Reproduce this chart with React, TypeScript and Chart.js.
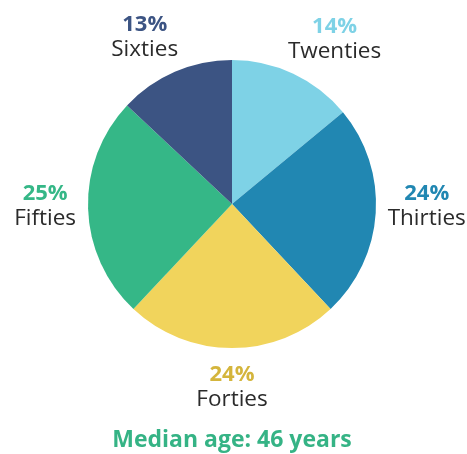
import React, { useEffect, useRef } from "react";
import { Chart, registerables } from "chart.js";

Chart.register(...registerables);

const categories = ["Twenties", "Thirties", "Forties", "Fifties", "Sixties"];
const shares = [14, 24, 24, 25, 13];
const percentLabels = ["14%", "24%", "24%", "25%", "13%"];
const sliceColors = ["#7ed2e6", "#2187b2", "#f1d45c", "#35b787", "#3c5483"];
const percentColors = ["#7ed2e6", "#2187b2", "#d4b53c", "#35b787", "#3c5483"];
const titleText = "Median age: 46 years";

const FONT = "'Open Sans', 'Noto Sans', sans-serif";

const outerLabels = {
  id: "outerLabels",
  afterDatasetsDraw(chart: any) {
    const meta = chart.getDatasetMeta(0);
    const ctx = chart.ctx as CanvasRenderingContext2D;
    ctx.save();
    meta.data.forEach((arc: any, i: number) => {
      const { x, y, startAngle, endAngle, outerRadius } = arc.getProps(
        ["x", "y", "startAngle", "endAngle", "outerRadius"],
        true
      );
      const mid = (startAngle + endAngle) / 2;
      const dx = Math.cos(mid);
      const dy = Math.sin(mid);
      const R = outerRadius + 12;
      const ax = x + dx * R;
      const ay = y + dy * R;
      const pctFont = `bold 22px ${FONT}`;
      const nameFont = `22.5px ${FONT}`;
      ctx.font = pctFont;
      const w1 = ctx.measureText(percentLabels[i]).width;
      ctx.font = nameFont;
      const w2 = ctx.measureText(categories[i]).width;
      const w = Math.max(w1, w2);
      const H = 41;
      let cx = ax;
      if (Math.abs(dx) > 0.05) cx = ax + Math.sign(dx) * (w / 2) * Math.pow(Math.abs(dx), 0.3);
      let cy: number;
      if (Math.abs(dy) < 0.4) cy = y;
      else cy = ay + Math.sign(dy) * (H / 2 + 5);
      const b1 = cy - H / 2 + 16;
      const b2 = b1 + 25;
      ctx.textAlign = "center";
      ctx.textBaseline = "alphabetic";
      ctx.font = pctFont;
      ctx.fillStyle = percentColors[i];
      ctx.fillText(percentLabels[i], cx, b1);
      ctx.font = nameFont;
      ctx.fillStyle = "#2b2b2b";
      ctx.fillText(categories[i], cx, b2);
    });
    ctx.restore();
  },
};

export default function App() {
  const ref = useRef<HTMLCanvasElement | null>(null);
  useEffect(() => {
    document.body.style.margin = "0";
    if (!ref.current) return;
    const chart = new Chart(ref.current, {
      type: "pie",
      data: {
        labels: categories,
        datasets: [
          {
            data: shares,
            backgroundColor: sliceColors,
            borderWidth: 0,
            hoverOffset: 0,
          },
        ],
      },
      options: {
        responsive: false,
        animation: false,
        events: [],
        layout: { padding: { left: 88, right: 91, top: 60, bottom: 0 } },
        plugins: {
          legend: { display: false },
          tooltip: { enabled: false },
          title: {
            display: true,
            text: titleText,
            position: "bottom",
            color: "#35b385",
            font: { family: FONT, size: 23, weight: "bold", lineHeight: 1.2 },
            padding: { top: 78.4, bottom: 0 },
          },
        },
      },
      plugins: [outerLabels],
    });
    return () => chart.destroy();
  }, []);
  return (
    <div style={{ width: 467, height: 454, background: "#fff" }}>
      <canvas ref={ref} width={467} height={454} style={{ display: "block" }} />
    </div>
  );
}
